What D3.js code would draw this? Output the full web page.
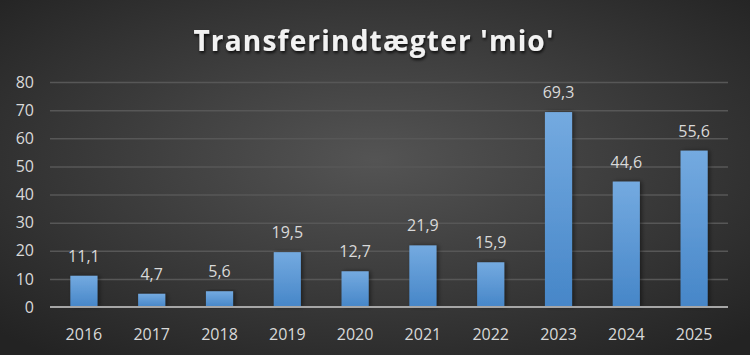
<!DOCTYPE html>
<html><head><meta charset="utf-8">
<script src="https://cdn.jsdelivr.net/npm/d3@7"></script>
<style>html,body{margin:0;padding:0;background:#333;}svg{display:block;}</style>
</head><body>
<svg id="chart" width="750" height="355"></svg>
<script>
const title = "Transferindtægter 'mio'";
const years = ["2016","2017","2018","2019","2020","2021","2022","2023","2024","2025"];
const values = [11.1, 4.7, 5.6, 19.5, 12.7, 21.9, 15.9, 69.3, 44.6, 55.6];
const yTicks = [0,10,20,30,40,50,60,70,80];

const W = 750, H = 355;
const margin = {left: 50, right: 22, top: 82, bottom: 48};
const svg = d3.select("#chart");
const defs = svg.append("defs");

const bg = defs.append("radialGradient").attr("id","bg").attr("cx","50%").attr("cy","45%").attr("r","70%");
bg.append("stop").attr("offset","0%").attr("stop-color","#545454");
bg.append("stop").attr("offset","100%").attr("stop-color","#232323");

const bar = defs.append("linearGradient").attr("id","bar").attr("x1",0).attr("y1",0).attr("x2",0).attr("y2",1);
bar.append("stop").attr("offset","0%").attr("stop-color","#74aae0");
bar.append("stop").attr("offset","100%").attr("stop-color","#4686c8");

const sh = defs.append("filter").attr("id","tshadow").attr("x","-10%").attr("y","-30%").attr("width","120%").attr("height","160%");
sh.append("feDropShadow").attr("dx",1).attr("dy",2).attr("stdDeviation",1.5).attr("flood-color","#000").attr("flood-opacity",0.8);
const bsh = defs.append("filter").attr("id","bshadow").attr("x","-20%").attr("y","-10%").attr("width","160%").attr("height","120%");
bsh.append("feDropShadow").attr("dx",2).attr("dy",0).attr("stdDeviation",2).attr("flood-color","#000").attr("flood-opacity",0.45);

svg.append("rect").attr("width",W).attr("height",H).attr("fill","url(#bg)");

const x = d3.scaleBand().domain(years).range([margin.left, W - margin.right]).paddingInner(0.6).paddingOuter(0.3);
const y = d3.scaleLinear().domain([0,80]).range([H - margin.bottom, margin.top]);

const fmt = d3.formatLocale({decimal: ",", thousands: ".", grouping:[3], currency:["","kr"]}).format(".1f");

// grid
const grid = svg.append("g")
  .attr("transform", `translate(${margin.left},0)`)
  .call(d3.axisLeft(y).tickValues(yTicks.filter(t=>t>0)).tickSize(-(W - margin.left - margin.right)).tickFormat(""));
grid.select(".domain").remove();
grid.selectAll(".tick line").attr("stroke","#575757").attr("stroke-width",1.5);

// y labels
const yAxis = svg.append("g")
  .attr("transform", `translate(${margin.left},0)`)
  .call(d3.axisLeft(y).tickValues(yTicks).tickSize(0).tickPadding(16));
yAxis.select(".domain").remove();
yAxis.selectAll("text").attr("fill","#d9d9d9").attr("font-size",16).attr("font-family","'Open Sans', 'Liberation Sans', sans-serif");

// bars
svg.append("g").selectAll("rect").data(values).join("rect")
  .attr("x",(d,i)=>x(years[i]))
  .attr("y",d=>y(d))
  .attr("width",x.bandwidth())
  .attr("height",d=>y(0)-y(d))
  .attr("fill","url(#bar)")
  .attr("filter","url(#bshadow)");

// baseline
svg.append("line").attr("x1",margin.left).attr("x2",W-margin.right)
  .attr("y1",y(0)).attr("y2",y(0)).attr("stroke","#a6a6a6").attr("stroke-width",2);

// x labels
const xAxis = svg.append("g")
  .attr("transform", `translate(0,${y(0)})`)
  .call(d3.axisBottom(x).tickSize(0).tickPadding(22));
xAxis.select(".domain").remove();
xAxis.selectAll("text").attr("fill","#d9d9d9").attr("font-size",16).attr("font-family","'Open Sans', 'Liberation Sans', sans-serif");

// value labels
svg.append("g").selectAll("text").data(values).join("text")
  .attr("x",(d,i)=>x(years[i]) + x.bandwidth()/2)
  .attr("y",d=>y(d) - 14)
  .attr("text-anchor","middle")
  .attr("fill","#d9d9d9").attr("font-size",16)
  .attr("font-family","'Open Sans', 'Liberation Sans', sans-serif")
  .text(d=>fmt(d));

// title
svg.append("text").attr("x",374).attr("y",51).attr("text-anchor","middle")
  .attr("fill","#f2f2f2").attr("font-size",28).attr("font-weight","bold")
  .attr("font-family","'Open Sans', 'Liberation Sans', sans-serif")
  .attr("letter-spacing",1.2)
  .attr("filter","url(#tshadow)")
  .text(title);
</script>
</body></html>
